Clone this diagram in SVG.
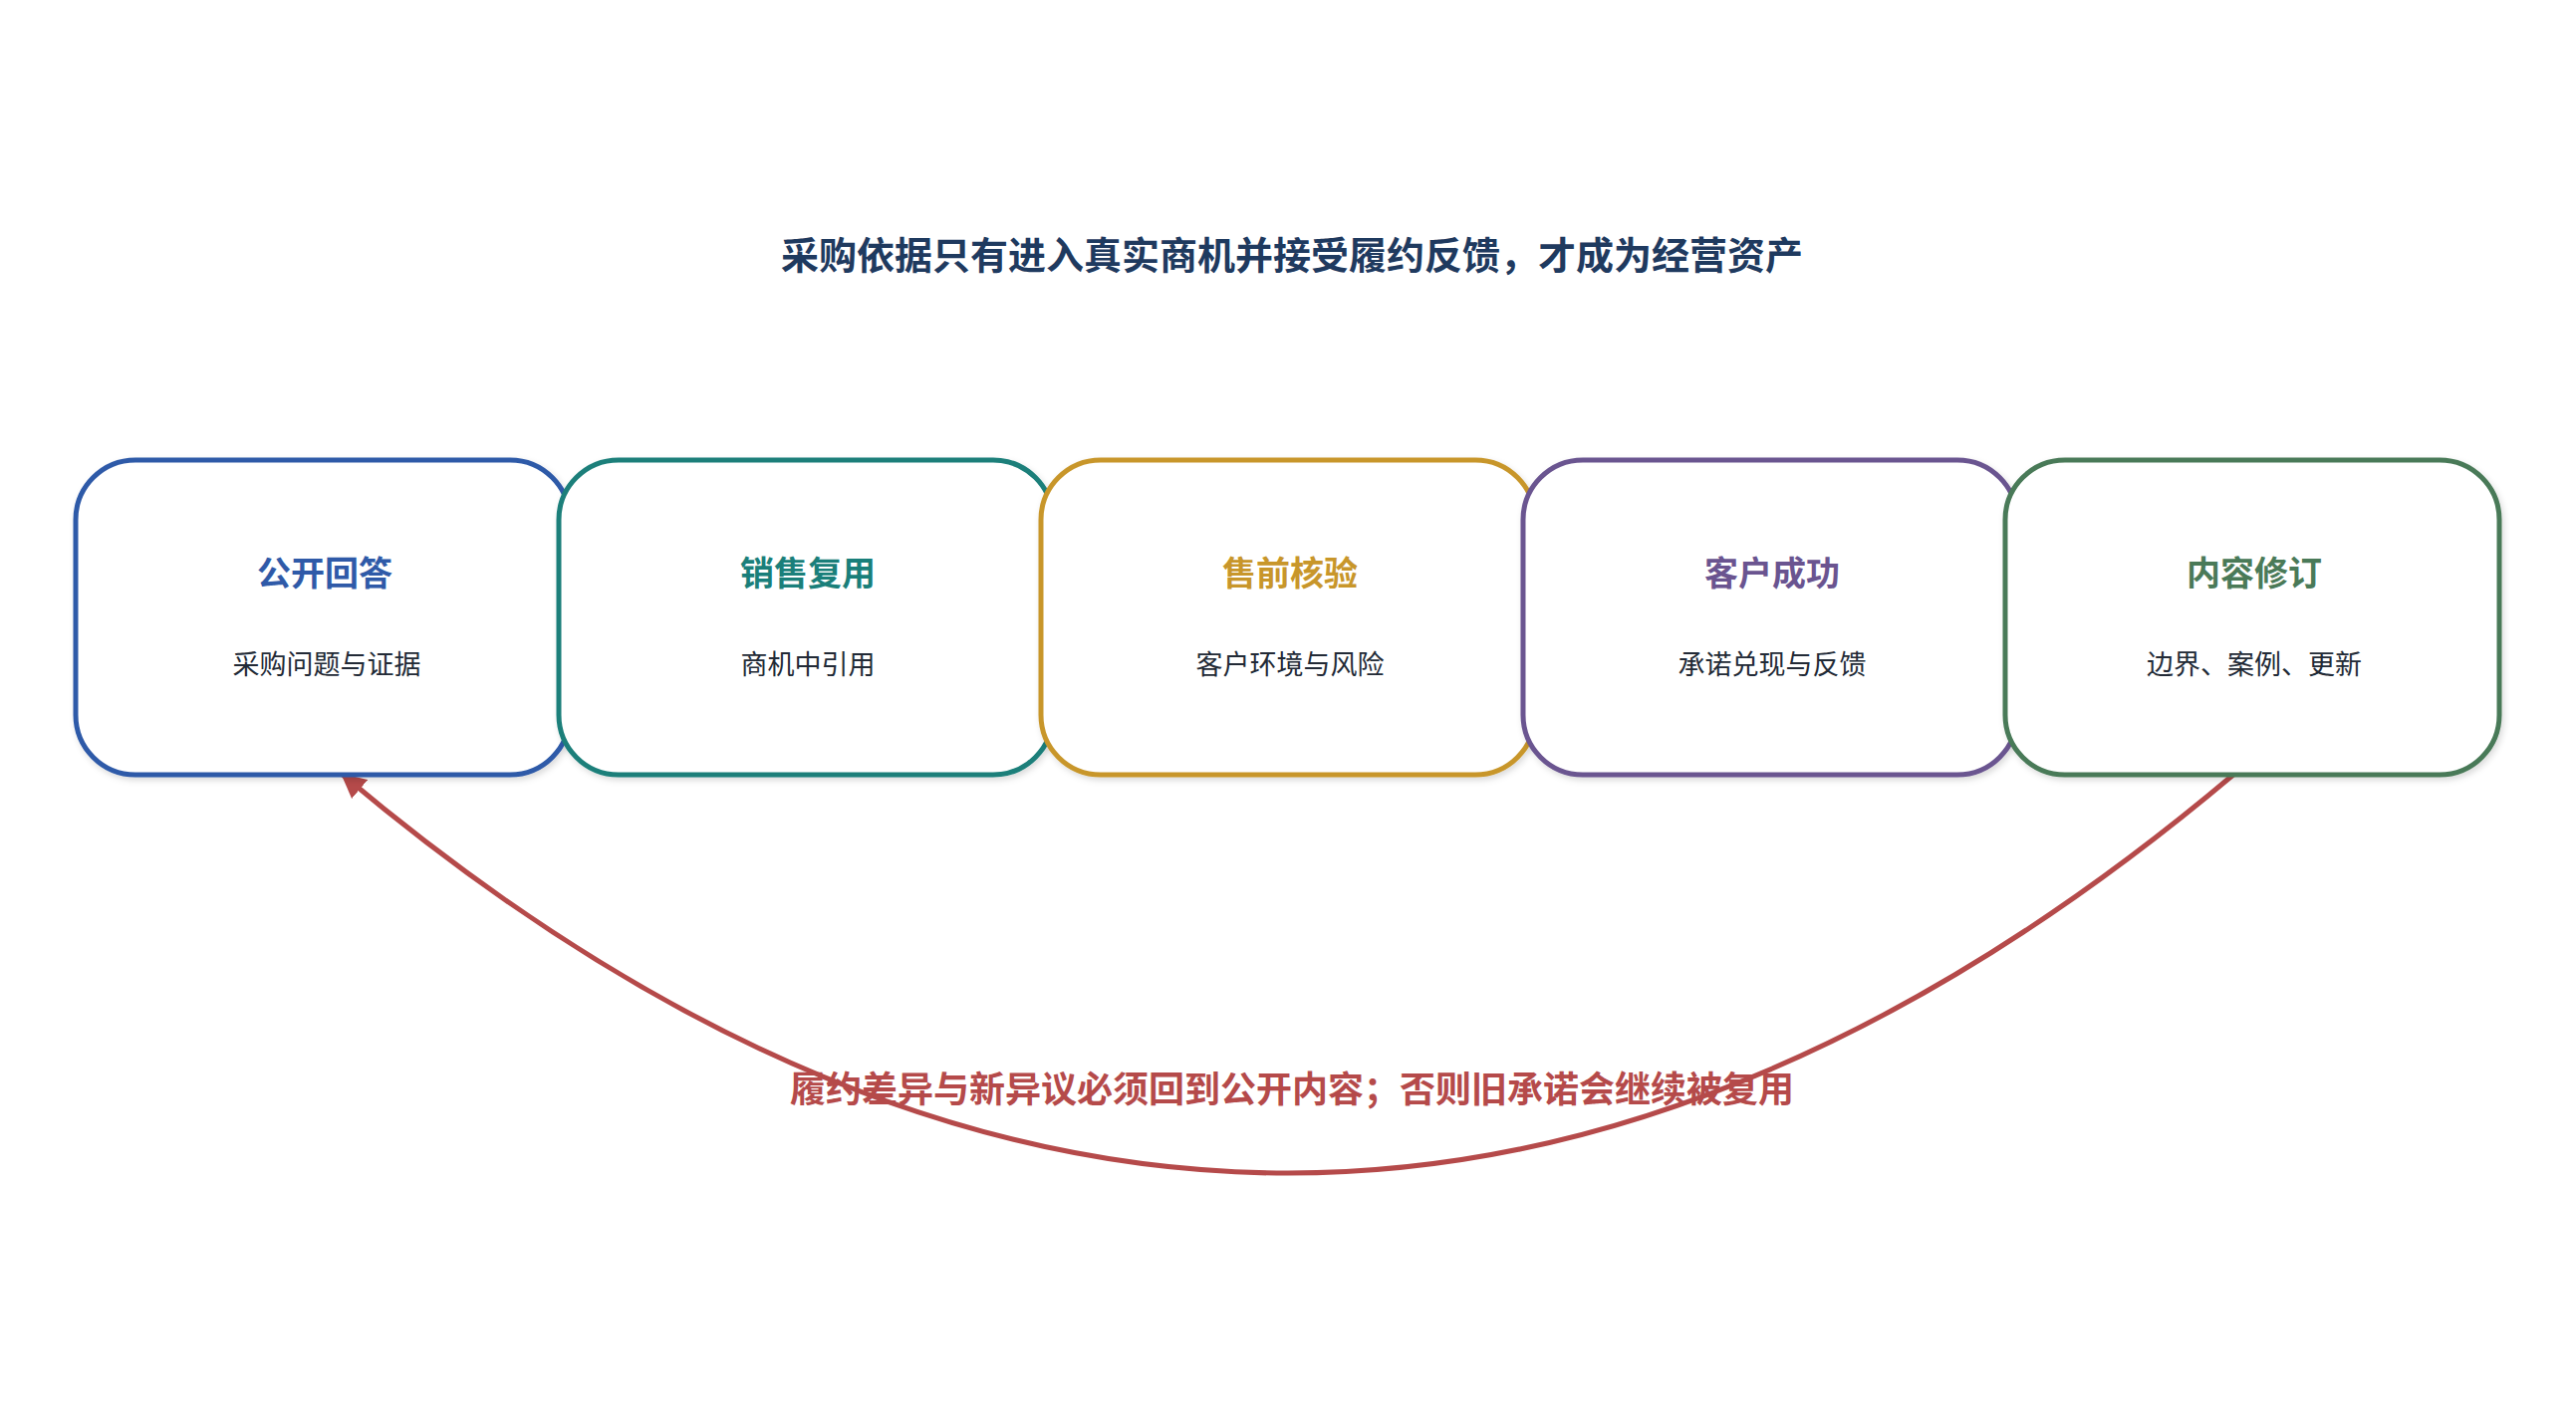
<svg xmlns="http://www.w3.org/2000/svg" width="2586" height="1431" viewBox="0 0 2586 1431">
<style>
text{font-family:"Noto Sans CJK SC","Liberation Sans",sans-serif;text-anchor:middle}
.box{fill:#fff;stroke-width:5}
.t{font-size:34px;font-weight:bold}
.s{font-size:27px;fill:#222a36}
</style>
<defs>
<marker id="ah" viewBox="0 0 10 10" refX="9" refY="5" markerWidth="5" markerHeight="5" orient="auto"><path d="M0,0 L10,5 L0,10 z" fill="#b54a4a"/></marker>
<filter id="sh"><feDropShadow dx="2" dy="3" stdDeviation="3" flood-opacity="0.15"/></filter>
</defs>
<rect width="2586" height="1431" fill="#fff"/>
<text x="1297" y="270" font-size="38" font-weight="bold" fill="#1f3a5f">采购依据只有进入真实商机并接受履约反馈，才成为经营资产</text>
<g id="connectors">
<path d="M2242,778 Q1293,1578 344,778" fill="none" stroke="#b54a4a" stroke-width="5" marker-end="url(#ah)"/>
</g>
<text x="1297" y="1107" font-size="36" font-weight="bold" fill="#b54a4a">履约差异与新异议必须回到公开内容；否则旧承诺会继续被复用</text>
<g id="n1"><rect class="box" x="76" y="462" width="496" height="316" rx="60" stroke="#2f5aa8" filter="url(#sh)"/><text class="t" x="326" y="588" fill="#2f5aa8">公开回答</text><text class="s" x="328" y="677">采购问题与证据</text></g>
<g id="n2"><rect class="box" x="561" y="462" width="496" height="316" rx="60" stroke="#1a7f7a" filter="url(#sh)"/><text class="t" x="811" y="588" fill="#1a7f7a">销售复用</text><text class="s" x="811" y="677">商机中引用</text></g>
<g id="n3"><rect class="box" x="1045" y="462" width="496" height="316" rx="60" stroke="#c8962a" filter="url(#sh)"/><text class="t" x="1295" y="588" fill="#c8962a">售前核验</text><text class="s" x="1295" y="677">客户环境与风险</text></g>
<g id="n4"><rect class="box" x="1529" y="462" width="496" height="316" rx="60" stroke="#6a5490" filter="url(#sh)"/><text class="t" x="1779" y="588" fill="#6a5490">客户成功</text><text class="s" x="1779" y="677">承诺兑现与反馈</text></g>
<g id="n5"><rect class="box" x="2013" y="462" width="496" height="316" rx="60" stroke="#4a7a58" filter="url(#sh)"/><text class="t" x="2263" y="588" fill="#4a7a58">内容修订</text><text class="s" x="2263" y="677">边界、案例、更新</text></g>
</svg>
